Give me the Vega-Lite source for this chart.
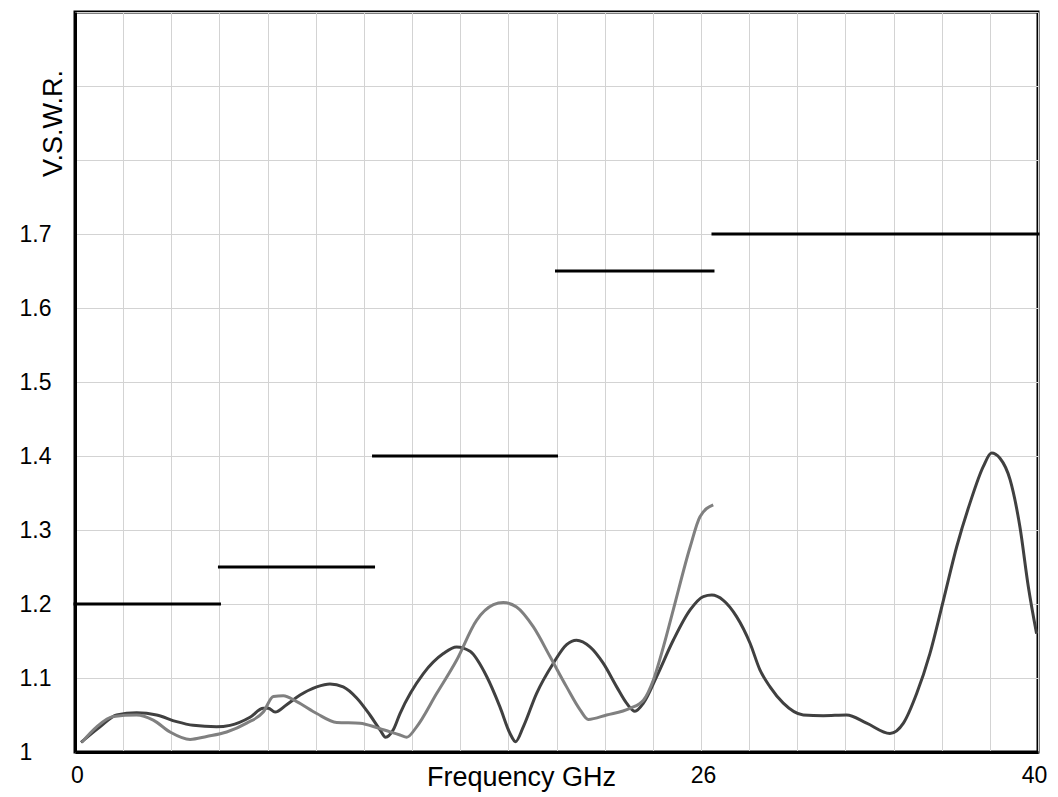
{
  "$schema": "https://vega.github.io/schema/vega-lite/v6.json",
  "width": 963,
  "height": 740,
  "autosize": {"type": "none"},
  "padding": {"left": 75, "top": 12, "right": 20, "bottom": 45},
  "background": "white",
  "config": {
    "view": {"stroke": "black", "strokeWidth": 3},
    "font": "Liberation Sans"
  },
  "datasets": {
    "curves": [
      {"s": "A", "f": 0.25, "v": 1.013}, {"s": "A", "f": 1.04, "v": 1.034}, {"s": "A", "f": 1.73, "v": 1.050},
      {"s": "A", "f": 2.56, "v": 1.053}, {"s": "A", "f": 3.39, "v": 1.050}, {"s": "A", "f": 4.22, "v": 1.041},
      {"s": "A", "f": 4.91, "v": 1.036}, {"s": "A", "f": 5.88, "v": 1.034}, {"s": "A", "f": 6.44, "v": 1.036},
      {"s": "A", "f": 7.27, "v": 1.047}, {"s": "A", "f": 7.82, "v": 1.059}, {"s": "A", "f": 8.03, "v": 1.059},
      {"s": "A", "f": 8.31, "v": 1.054}, {"s": "A", "f": 8.79, "v": 1.064}, {"s": "A", "f": 9.35, "v": 1.077},
      {"s": "A", "f": 10.04, "v": 1.088}, {"s": "A", "f": 10.59, "v": 1.092}, {"s": "A", "f": 11.14, "v": 1.088},
      {"s": "A", "f": 11.70, "v": 1.073}, {"s": "A", "f": 12.25, "v": 1.050}, {"s": "A", "f": 12.67, "v": 1.030},
      {"s": "A", "f": 12.90, "v": 1.020}, {"s": "A", "f": 13.22, "v": 1.030}, {"s": "A", "f": 13.5, "v": 1.052},
      {"s": "A", "f": 14.47, "v": 1.106}, {"s": "A", "f": 15.30, "v": 1.133}, {"s": "A", "f": 15.85, "v": 1.142},
      {"s": "A", "f": 16.41, "v": 1.136}, {"s": "A", "f": 17.10, "v": 1.102}, {"s": "A", "f": 17.65, "v": 1.061},
      {"s": "A", "f": 18.07, "v": 1.025}, {"s": "A", "f": 18.30, "v": 1.014}, {"s": "A", "f": 18.62, "v": 1.034},
      {"s": "A", "f": 19.17, "v": 1.079}, {"s": "A", "f": 19.87, "v": 1.120}, {"s": "A", "f": 20.42, "v": 1.145},
      {"s": "A", "f": 20.83, "v": 1.151}, {"s": "A", "f": 21.39, "v": 1.142}, {"s": "A", "f": 21.94, "v": 1.120},
      {"s": "A", "f": 22.50, "v": 1.088}, {"s": "A", "f": 22.91, "v": 1.066}, {"s": "A", "f": 23.26, "v": 1.055},
      {"s": "A", "f": 23.61, "v": 1.066}, {"s": "A", "f": 24.16, "v": 1.102}, {"s": "A", "f": 24.85, "v": 1.151},
      {"s": "A", "f": 25.55, "v": 1.192}, {"s": "A", "f": 26.10, "v": 1.210}, {"s": "A", "f": 26.45, "v": 1.212},
      {"s": "A", "f": 26.93, "v": 1.205}, {"s": "A", "f": 27.48, "v": 1.183}, {"s": "A", "f": 28.04, "v": 1.147},
      {"s": "A", "f": 28.45, "v": 1.111}, {"s": "A", "f": 28.87, "v": 1.088}, {"s": "A", "f": 29.42, "v": 1.066},
      {"s": "A", "f": 30.25, "v": 1.050}, {"s": "A", "f": 31.08, "v": 1.049}, {"s": "A", "f": 32.05, "v": 1.050},
      {"s": "A", "f": 32.88, "v": 1.039}, {"s": "A", "f": 33.85, "v": 1.025}, {"s": "A", "f": 34.41, "v": 1.039},
      {"s": "A", "f": 34.96, "v": 1.079}, {"s": "A", "f": 35.51, "v": 1.133}, {"s": "A", "f": 36.07, "v": 1.205},
      {"s": "A", "f": 36.62, "v": 1.277}, {"s": "A", "f": 37.17, "v": 1.336}, {"s": "A", "f": 37.73, "v": 1.386},
      {"s": "A", "f": 38.07, "v": 1.404}, {"s": "A", "f": 38.42, "v": 1.397}, {"s": "A", "f": 38.84, "v": 1.368},
      {"s": "A", "f": 39.25, "v": 1.304}, {"s": "A", "f": 39.60, "v": 1.223}, {"s": "A", "f": 39.94, "v": 1.160},
      {"s": "B", "f": 0.28, "v": 1.013}, {"s": "B", "f": 0.90, "v": 1.034}, {"s": "B", "f": 1.59, "v": 1.048},
      {"s": "B", "f": 2.56, "v": 1.050}, {"s": "B", "f": 3.25, "v": 1.043}, {"s": "B", "f": 3.95, "v": 1.027},
      {"s": "B", "f": 4.78, "v": 1.017}, {"s": "B", "f": 5.47, "v": 1.021}, {"s": "B", "f": 6.30, "v": 1.027},
      {"s": "B", "f": 7.13, "v": 1.039}, {"s": "B", "f": 7.82, "v": 1.054}, {"s": "B", "f": 8.24, "v": 1.075},
      {"s": "B", "f": 8.65, "v": 1.076}, {"s": "B", "f": 9.21, "v": 1.068}, {"s": "B", "f": 10.04, "v": 1.052},
      {"s": "B", "f": 10.87, "v": 1.040}, {"s": "B", "f": 11.84, "v": 1.039}, {"s": "B", "f": 12.53, "v": 1.033},
      {"s": "B", "f": 12.81, "v": 1.030}, {"s": "B", "f": 13.5, "v": 1.023}, {"s": "B", "f": 13.78, "v": 1.020},
      {"s": "B", "f": 14.19, "v": 1.034}, {"s": "B", "f": 15.02, "v": 1.079}, {"s": "B", "f": 15.85, "v": 1.124},
      {"s": "B", "f": 16.68, "v": 1.178}, {"s": "B", "f": 17.38, "v": 1.199}, {"s": "B", "f": 17.79, "v": 1.202},
      {"s": "B", "f": 18.34, "v": 1.196}, {"s": "B", "f": 19.04, "v": 1.169}, {"s": "B", "f": 19.73, "v": 1.129},
      {"s": "B", "f": 20.42, "v": 1.088}, {"s": "B", "f": 20.98, "v": 1.057}, {"s": "B", "f": 21.32, "v": 1.044},
      {"s": "B", "f": 22.08, "v": 1.050}, {"s": "B", "f": 23.05, "v": 1.059}, {"s": "B", "f": 23.61, "v": 1.070},
      {"s": "B", "f": 24.02, "v": 1.097}, {"s": "B", "f": 24.44, "v": 1.142}, {"s": "B", "f": 24.85, "v": 1.192},
      {"s": "B", "f": 25.55, "v": 1.277}, {"s": "B", "f": 25.96, "v": 1.318},
      {"s": "B", "f": 26.51, "v": 1.334}
    ],
    "limits": [
      {"start": 0, "end": 6, "limit": 1.2},
      {"start": 6, "end": 12.4, "limit": 1.25},
      {"start": 12.4, "end": 20, "limit": 1.4},
      {"start": 20, "end": 26.5, "limit": 1.65},
      {"start": 26.5, "end": 40, "limit": 1.7}
    ]
  },
  "layer": [
    {
      "data": {"name": "curves"},
      "mark": {"type": "line", "interpolate": "monotone", "strokeWidth": 3},
      "encoding": {
        "x": {
          "field": "f", "type": "quantitative",
          "scale": {"domain": [0, 40], "nice": false, "zero": false},
          "axis": {
            "values": [0, 2, 4, 6, 8, 10, 12, 14, 16, 18, 20, 22, 24, 26, 28, 30, 32, 34, 36, 38, 40],
            "labelExpr": "datum.value == 0 || datum.value == 26 || datum.value == 40 ? datum.label : ''",
            "labelOffset": {"condition": {"test": "datum.value == 40", "value": -4}, "value": 2},
            "ticks": false,
            "domainColor": "black", "domainWidth": 3,
            "grid": true, "gridColor": "#d3d3d3", "gridWidth": 1,
            "labelFont": "Liberation Sans", "labelFontSize": 23, "labelColor": "black",
            "labelPadding": 12, "labelBound": false, "labelFlush": false, "labelOverlap": false,
            "title": "Frequency GHz",
            "titleFont": "Liberation Sans", "titleFontSize": 27, "titleFontWeight": "normal", "titleColor": "black",
            "titleX": 446, "titleY": 33, "titleAlign": "center", "titleBaseline": "alphabetic"
          }
        },
        "y": {
          "field": "v", "type": "quantitative",
          "scale": {"domain": [1, 2], "nice": false, "zero": false},
          "axis": {
            "values": [1, 1.1, 1.2, 1.3, 1.4, 1.5, 1.6, 1.7, 1.8, 1.9, 2],
            "labelExpr": "datum.value > 1.75 ? '' : format(datum.value, '~g')",
            "ticks": false,
            "domainColor": "black", "domainWidth": 3,
            "grid": true, "gridColor": "#d3d3d3", "gridWidth": 1,
            "labelFont": "Liberation Sans", "labelFontSize": 23, "labelColor": "black",
            "labelAlign": "left", "labelBaseline": "middle", "labelPadding": 56, "labelOverlap": false,
            "title": "V.S.W.R.",
            "titleFont": "Liberation Sans", "titleFontSize": 27, "titleFontWeight": "normal", "titleColor": "black",
            "titleAngle": -90, "titleX": -22, "titleY": 111, "titleAlign": "center", "titleBaseline": "middle"
          }
        },
        "color": {
          "field": "s", "type": "nominal",
          "scale": {"domain": ["A", "B"], "range": ["#404040", "#808080"]},
          "legend": null
        },
        "order": {"field": "f", "type": "quantitative"}
      }
    },
    {
      "data": {"name": "limits"},
      "mark": {"type": "rule", "color": "black", "strokeWidth": 3, "strokeCap": "square"},
      "encoding": {
        "x": {"field": "start", "type": "quantitative"},
        "x2": {"field": "end"},
        "y": {"field": "limit", "type": "quantitative"}
      }
    }
  ]
}
